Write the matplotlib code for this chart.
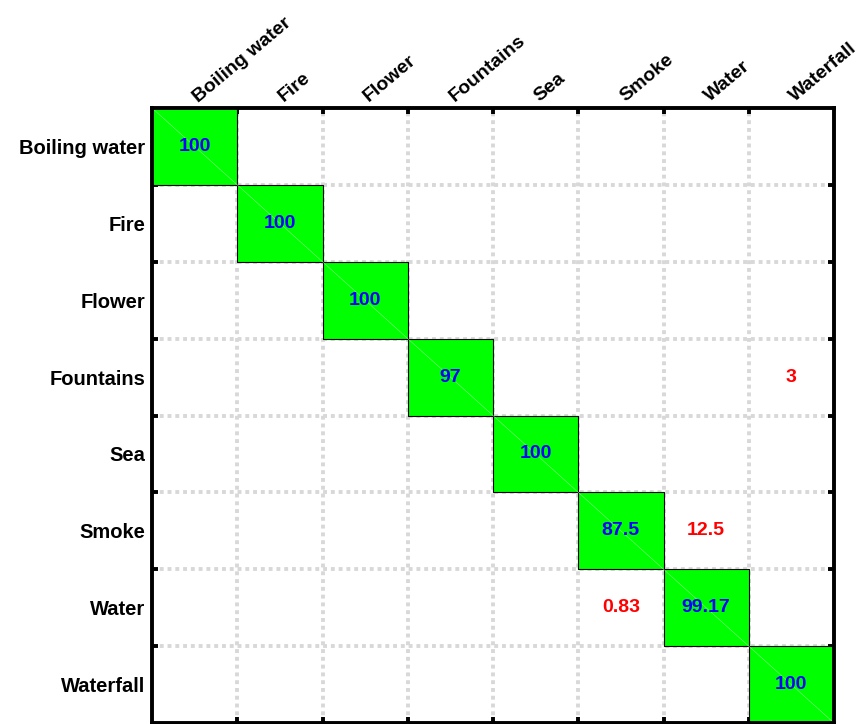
import numpy as np
import matplotlib.pyplot as plt
from matplotlib.transforms import ScaledTranslation

classes = ['Boiling water', 'Fire', 'Flower', 'Fountains', 'Sea', 'Smoke', 'Water', 'Waterfall']

# rows = true class, cols = predicted class (percent)
conf = np.array([
    [100, 0, 0, 0, 0, 0, 0, 0],
    [0, 100, 0, 0, 0, 0, 0, 0],
    [0, 0, 100, 0, 0, 0, 0, 0],
    [0, 0, 0, 97, 0, 0, 0, 3],
    [0, 0, 0, 0, 100, 0, 0, 0],
    [0, 0, 0, 0, 0, 87.5, 12.5, 0],
    [0, 0, 0, 0, 0, 0.83, 99.17, 0],
    [0, 0, 0, 0, 0, 0, 0, 100],
])

plt.rcParams['font.family'] = 'Liberation Sans'
plt.rcParams['font.weight'] = 'bold'

fig = plt.figure(figsize=(8.66, 7.24), dpi=100)
ax = fig.add_axes([152 / 866, 1 - 723 / 724, 682 / 866, 615 / 724])

n = len(classes)
edges = np.arange(n + 1)

# green boxes on the diagonal
for i in range(n):
    if conf[i, i] > 0:
        ax.bar(i + 0.5, 1, bottom=i, width=1, color='#00ff00',
               edgecolor='black', linewidth=0.8, zorder=1)
        ax.plot([i, i + 1], [i, i + 1], color='#d0ffd0', lw=0.35, alpha=0.7, zorder=1.5)

for i in range(n):
    for j in range(n):
        v = conf[i, j]
        if v == 0:
            continue
        col = 'blue' if i == j else 'red'
        ax.text(j + 0.5, i + 0.5, f'{v:g}', ha='center', va='center',
                color=col, fontsize=14, fontweight='bold', zorder=3)

ax.set_xlim(0, n)
ax.set_ylim(n, 0)

ax.set_xticks(edges[:-1] + 0.5)
ax.set_yticks(edges[:-1] + 0.5)
ax.set_xticklabels(classes, rotation=40, ha='left', va='baseline',
                   rotation_mode='anchor', fontsize=14, fontweight='bold')
ax.set_yticklabels(classes, fontsize=14.5, fontweight='bold')
ax.xaxis.tick_top()
ax.tick_params(which='major', length=0, pad=5)
ax.tick_params(axis='x', which='major', pad=4)
shift = ScaledTranslation(4 / 100, 0, fig.dpi_scale_trans)
for lab in ax.get_xticklabels():
    lab.set_transform(lab.get_transform() + shift)

ax.set_xticks(edges[1:-1], minor=True)
ax.set_yticks(edges[1:-1], minor=True)
ax.tick_params(which='minor', direction='in', length=4, width=2.8, color='black',
               top=True, bottom=True, left=True, right=True)

ax.set_axisbelow(True)
ax.grid(which='minor', color='#d8d8d8', linestyle=(0, (1, 1)), linewidth=2.8)
ax.grid(which='major', visible=False)

for s in ax.spines.values():
    s.set_linewidth(2.8)
    s.set_zorder(4)

fig.savefig('out.png', dpi=100)
